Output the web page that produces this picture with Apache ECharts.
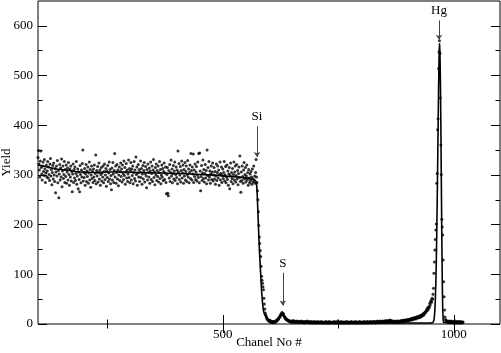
<!DOCTYPE html>
<html>
<head>
<meta charset="utf-8">
<script src="https://cdn.jsdelivr.net/npm/echarts@6/dist/echarts.min.js"></script>
<style>
  html, body { margin: 0; padding: 0; background: #fff; }
  #rbsChart { width: 501px; height: 353px; }
</style>
</head>
<body>
<div id="rbsChart"></div>
<script>
// measured counts, one value per channel; each block starts at its own channel
var plateauStart = 100
var plateauCounts = [
  335, 349, 322, 310, 296, 328, 348, 315, 302, 290, 318, 326, 307, 299, 331, 312, 285, 304, 320, 296,
  308, 327, 294, 316, 301, 289, 322, 333, 298, 311, 280, 305, 319, 292, 324, 300, 287, 313, 264, 306,
  318, 298, 329, 284, 309, 254, 302, 321, 290, 314, 296, 332, 276, 308, 318, 293, 301, 327, 285, 311,
  297, 320, 283, 306, 314, 290, 325, 301, 279, 312, 296, 318, 288, 307, 266, 302, 322, 285, 311, 294,
  316, 289, 303, 327, 281, 298, 312, 272, 306, 291, 266, 319, 301, 284, 310, 296, 323, 350, 288, 305,
  295, 313, 279, 302, 321, 287, 308, 297, 316, 283, 304, 326, 290, 311, 275, 300, 318, 293, 307, 285,
  312, 296, 320, 289, 303, 340, 282, 309, 298, 317, 286, 305, 324, 292, 310, 279, 301, 315, 288, 304,
  296, 318, 284, 307, 322, 291, 300, 313, 277, 308, 295, 319, 287, 304, 326, 292, 311, 282, 299, 270,
  314, 290, 325, 302, 285, 309, 343, 296, 318, 283, 305, 321, 292, 310, 278, 300, 316, 289, 307, 324,
  297, 312, 286, 320, 303, 291, 328, 299, 315, 281, 306, 323, 294, 310, 287, 302, 330, 295, 313, 284,
  308, 325, 290, 312, 299, 318, 282, 305, 327, 293, 310, 288, 336, 301, 316, 279, 304, 321, 296, 311,
  287, 306, 328, 295, 313, 281, 302, 319, 292, 309, 325, 286, 303, 317, 298, 274, 311, 290, 322, 305,
  296, 314, 283, 308, 326, 291, 303, 318, 287, 310, 331, 295, 306, 280, 315, 300, 322, 289, 309, 297,
  318, 286, 305, 327, 293, 311, 282, 300, 320, 296, 313, 289, 307, 324, 291, 304, 316, 285, 262, 301,
  315, 263, 258, 309, 294, 321, 287, 305, 330, 298, 312, 284, 303, 319, 292, 308, 326, 289, 301, 316,
  295, 310, 282, 348, 306, 323, 291, 300, 317, 286, 309, 328, 294, 304, 320, 283, 311, 298, 325, 290,
  307, 318, 287, 301, 329, 296, 312, 284, 305, 320, 293, 343, 309, 290, 316, 302, 342, 285, 310, 297,
  322, 291, 306, 317, 288, 300, 326, 295, 343, 284, 344, 308, 268, 297, 319, 289, 304, 330, 293, 311,
  286, 303, 321, 294, 309, 282, 350, 299, 315, 290, 327, 296, 308, 283, 302, 318, 291, 306, 324, 288,
  300, 315, 292, 307, 281, 298, 322, 289, 305, 318, 294, 310, 279, 301, 326, 290, 303, 316, 285, 299,
  312, 293, 305, 327, 288, 300, 317, 284, 296, 320, 291, 308, 279, 302, 315, 272, 299, 324, 287, 305,
  293, 313, 282, 301, 326, 290, 306, 318, 286, 299, 321, 292, 309, 280, 303, 316, 295, 338, 287, 265,
  306, 289, 318, 297, 283, 310, 325, 292, 301, 315, 286, 298, 320, 290, 305, 279, 311, 294, 284, 302,
  288, 307, 296, 281, 312, 293, 286, 318, 290, 298, 283, 305, 331, 296
]
var edgeStart = 574
var edgeCounts = [285, 268, 250, 226, 198, 175, 162, 148, 136, 116, 96, 88, 82, 75, 69, 52, 40, 30, 22, 18, 15, 12, 10, 9, 8, 7, 6]
var sulfurStart = 601
var sulfurCounts = [
  5, 7, 4, 6, 5, 3, 5, 4, 3, 5, 4, 3, 4, 6, 5, 7, 6, 9, 8, 11,
  10, 13, 15, 14, 18, 20, 19, 23, 22, 20, 21, 17, 15, 14, 11, 12, 9, 10, 8, 7,
  8, 6, 7, 5, 6
]
var baselineStart = 646
var baselineCounts = [
  5, 4, 6, 3, 5, 4, 7, 5, 3, 4, 6, 4, 5, 3, 4, 6, 5, 3, 4, 5,
  4, 3, 5, 4, 6, 3, 4, 5, 3, 4, 2, 5, 4, 3, 5, 4, 3, 6, 4, 3,
  4, 5, 3, 2, 4, 3, 5, 4, 2, 3, 4, 3, 5, 2, 4, 3, 2, 4, 3, 5,
  3, 2, 4, 3, 4, 2, 3, 5, 3, 2, 4, 3, 2, 3, 4, 2, 3, 5, 3, 2,
  4, 3, 2, 3, 5, 2, 3, 4, 2, 3, 3, 4, 2, 3, 4, 2, 5, 3, 2, 3,
  4, 2, 3, 6, 3, 2, 4, 3, 2, 3, 5, 2, 3, 4, 2, 3, 4, 3, 2, 4,
  3, 2, 5, 3, 2, 4, 3, 2, 3, 4, 2, 3, 5, 3, 2, 4, 3, 3, 2, 4,
  3, 5, 2, 3, 4, 2, 3, 4, 3, 2, 5, 3, 4, 2, 3, 4, 3, 2, 4, 3,
  5, 3, 2, 4, 3, 4, 2, 5, 3, 4, 3, 2, 4, 5, 3, 4, 2, 3, 5, 4,
  3, 4, 5, 3, 2, 4, 5, 3, 4, 6, 3, 4, 5, 3, 4, 6, 4, 5, 3, 4,
  6, 4, 5, 3, 6, 5, 4, 7, 5, 4, 6, 5, 7, 4, 6, 5, 8, 6, 5, 7,
  4, 5, 3, 6, 4, 5, 3, 5, 6, 4, 5, 4, 6, 5, 3, 6, 5, 4, 6, 5,
  7, 5, 6, 4, 7, 6, 8, 5, 7, 6, 8, 7, 6, 9, 7, 8, 6, 9, 8, 10,
  8, 9, 11, 8, 10, 12, 9, 11, 10, 13, 11, 12, 10, 14, 12, 13, 15, 12, 14, 16,
  13, 15, 17, 14, 18, 16, 19, 17, 21, 18, 20, 23, 22, 25, 24, 28, 30, 27, 33
]
var mercuryStart = 945
var mercuryCounts = [
  30, 35, 33, 42, 38, 45, 48, 44, 52, 50, 60, 72, 102, 125, 149, 170, 189, 201, 283, 303,
  391, 413, 514, 548, 570, 545, 455, 360, 301, 211, 195, 179, 129, 85, 55, 28, 14, 9, 7, 6,
  5, 6, 4, 5, 3, 6, 4, 5, 3, 4, 6, 3, 5, 4, 2, 5, 3, 4, 6, 3,
  4, 2, 5, 3, 4, 3, 5, 2, 4, 3, 5, 3, 2, 4, 3, 4
]

// simulated spectrum (solid line)
var fitChannels = [
  100, 110, 120, 130, 140, 150, 160, 170, 180, 190, 200, 215, 230, 250, 270, 290, 310, 330, 350, 370,
  390, 410, 430, 450, 470, 490, 510, 530, 550, 560, 567, 570, 572, 573, 574, 575, 576, 577, 578, 579,
  580, 581, 582, 583, 584, 585, 586, 587, 588, 590, 592, 595, 600, 605, 610, 615, 618, 621, 624, 627,
  629, 631, 634, 637, 640, 645, 660, 700, 750, 800, 850, 900, 950, 955, 956, 957, 958, 959, 960, 961,
  962, 963, 964, 965, 966, 967, 968, 969, 970, 971, 972, 973, 974, 975, 976, 977, 978, 990, 1020
]
var fitYield = [
  320, 318, 316, 314, 312, 311, 310, 309, 307, 306, 306, 305, 305, 306, 306, 306, 305, 305, 304, 304,
  303, 303, 302, 301, 300, 299, 297, 296, 294, 292, 290, 289, 287, 282, 270, 248, 225, 200, 176, 155,
  135, 118, 100, 82, 66, 54, 43, 34, 27, 20, 16, 13, 9, 6, 4, 4, 6, 10, 15, 20,
  22, 20, 15, 10, 7, 5, 4, 3, 2, 2, 2, 2, 2, 3, 5, 8, 15, 28, 48, 78,
  120, 175, 240, 315, 395, 470, 530, 565, 548, 490, 400, 290, 180, 90, 30, 8, 3, 2, 2
]

var xMajorTicks = [500, 1000]
var xMinorTicks = [250, 750]
var yMajorTicks = [0, 100, 200, 300, 400, 500, 600]
var yMinorTicks = [50, 150, 250, 350, 450, 550]

// peak labels: [name, channel, arrow top, arrow tip]
var peakLabels = [
  ['Si', 574, 398, 336],
  ['S', 630, 103, 37],
  ['Hg', 968, 611, 572]
]

var points = []
function addBlock(start, counts) {
  counts.forEach(function(v, i) {
    points.push([start + i, v])
  })
}
addBlock(plateauStart, plateauCounts)
addBlock(edgeStart, edgeCounts)
addBlock(sulfurStart, sulfurCounts)
addBlock(baselineStart, baselineCounts)
addBlock(mercuryStart, mercuryCounts)

var fitLine = fitChannels.map(function(c, i) {
  return [c, fitYield[i]]
})

var font = 'Liberation Serif'

function xAxisDef(pos, ticks, len, labels) {
  return {
    type: 'value',
    position: pos,
    min: 100,
    max: 1100,
    axisLine: { show: false },
    splitLine: { show: false },
    axisTick: { show: true, inside: true, length: len, customValues: ticks, lineStyle: { color: '#000', width: 1 } },
    axisLabel: labels
      ? { show: true, customValues: ticks, color: '#000', fontFamily: font, fontSize: 13, margin: 4, formatter: function(v) { return String(v) } }
      : { show: false }
  }
}
function yAxisDef(pos, ticks, len, labels) {
  return {
    type: 'value',
    position: pos,
    min: 0,
    max: 650,
    axisLine: { show: false },
    splitLine: { show: false },
    axisTick: { show: true, inside: true, length: len, customValues: ticks, lineStyle: { color: '#000', width: 1 } },
    axisLabel: labels
      ? { show: true, customValues: ticks, color: '#000', fontFamily: font, fontSize: 13, margin: 5, formatter: function(v) { return String(v) } }
      : { show: false }
  }
}

var xAxes = [
  xAxisDef('bottom', xMajorTicks, 9, true),
  xAxisDef('bottom', xMinorTicks, 4.5, false),
  xAxisDef('top', xMajorTicks, 9, false),
  xAxisDef('top', xMinorTicks, 4.5, false)
]
xAxes[0].name = 'Chanel No #'
xAxes[0].nameLocation = 'middle'
xAxes[0].nameGap = 12
xAxes[0].nameMoveOverlap = false
xAxes[0].nameTextStyle = { color: '#000', fontFamily: font, fontSize: 13 }

var yAxes = [
  yAxisDef('left', yMajorTicks, 9, true),
  yAxisDef('left', yMinorTicks, 4.5, false),
  yAxisDef('right', yMajorTicks, 9, false),
  yAxisDef('right', yMinorTicks, 4.5, false)
]
yAxes[0].name = 'Yield'
yAxes[0].nameLocation = 'middle'
yAxes[0].nameGap = 25
yAxes[0].nameMoveOverlap = false
yAxes[0].nameTextStyle = { color: '#000', fontFamily: font, fontSize: 13 }

var chart = echarts.init(document.getElementById('rbsChart'))
chart.setOption({
  animation: false,
  backgroundColor: '#fff',
  grid: {
    show: true,
    left: 38,
    right: 1,
    top: 1,
    bottom: 29,
    containLabel: false,
    outerBoundsMode: 'none',
    borderColor: '#000',
    borderWidth: 1,
    backgroundColor: 'transparent'
  },
  xAxis: xAxes,
  yAxis: yAxes,
  series: [
    {
      type: 'scatter',
      data: points,
      symbol: 'circle',
      symbolSize: 3,
      itemStyle: { color: '#000' },
      silent: true,
      markLine: {
        silent: true,
        symbol: ['none', 'arrow'],
        symbolSize: 5,
        lineStyle: { color: '#444', width: 1, type: 'solid' },
        label: {
          show: true,
          position: 'start',
          distance: 3,
          formatter: '{b}',
          color: '#000',
          fontFamily: font,
          fontSize: 13
        },
        data: peakLabels.map(function(p) {
          return [
            { name: p[0], coord: [p[1], p[2]] },
            { coord: [p[1], p[3]] }
          ]
        })
      }
    },
    {
      type: 'line',
      data: fitLine,
      showSymbol: false,
      lineStyle: { color: '#000', width: 1.6 },
      silent: true
    }
  ]
})
</script>
</body>
</html>
